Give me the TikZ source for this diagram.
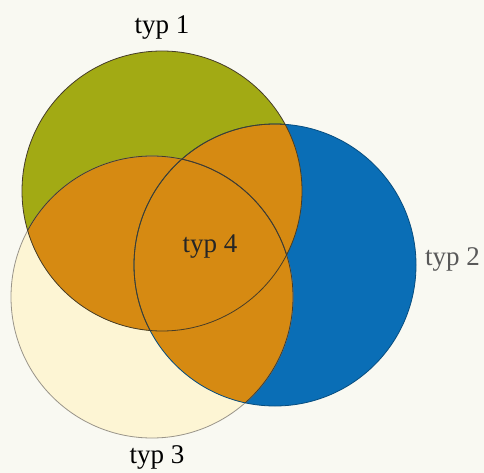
\documentclass[tikz,border=0pt]{standalone}
\usepackage{fontspec}
\setmainfont{Liberation Serif}
\definecolor{bgc}{RGB}{249,249,242}
\definecolor{olivec}{RGB}{162,170,20}
\definecolor{bluec}{RGB}{10,110,182}
\definecolor{orangec}{RGB}{214,138,18}
\definecolor{creamc}{RGB}{253,245,212}
\definecolor{edgec}{RGB}{70,60,40}
\begin{document}
\begin{tikzpicture}[x=1pt,y=-1pt,
  lbl/.style={font=\fontsize{27}{31}\selectfont, inner sep=0pt, anchor=base},
  ring/.style={draw=edgec, line width=0.8pt}]
\useasboundingbox (0,0) rectangle (484,473);
\fill[bgc] (0,0) rectangle (484,473);
\coordinate (cA) at (162,191);
\coordinate (cB) at (275,265);
\coordinate (cC) at (152,297);
% base fills
\fill[creamc] (cC) circle[radius=141];
\fill[bluec] (cB) circle[radius=141];
\fill[olivec] (cA) circle[radius=140];
% pairwise intersections
\begin{scope}
  \clip (cA) circle[radius=140];
  \fill[orangec] (cB) circle[radius=141];
  \fill[orangec] (cC) circle[radius=141];
\end{scope}
\begin{scope}
  \clip (cB) circle[radius=141];
  \fill[orangec] (cC) circle[radius=141];
\end{scope}
% outlines
\draw[ring, draw=edgec!55] (cC) circle[radius=141];
\draw[ring, draw=bluec!70!black] (cB) circle[radius=141];
\draw[ring] (cA) circle[radius=140];
\begin{scope}
  \clip (cA) circle[radius=140];
  \draw[ring] (cB) circle[radius=141];
  \draw[ring] (cC) circle[radius=141];
\end{scope}
\begin{scope}
  \clip (cB) circle[radius=141];
  \draw[ring] (cC) circle[radius=141];
\end{scope}
% labels
\node[lbl] (t1) at (162,34) {typ 1};
\node[lbl, text=black!65, anchor=base west] (t2) at (425,265) {typ 2};
\node[lbl] (t3) at (157,463) {typ 3};
\node[lbl, text=black!85] (t4) at (210,252) {typ 4};
\end{tikzpicture}
\end{document}
